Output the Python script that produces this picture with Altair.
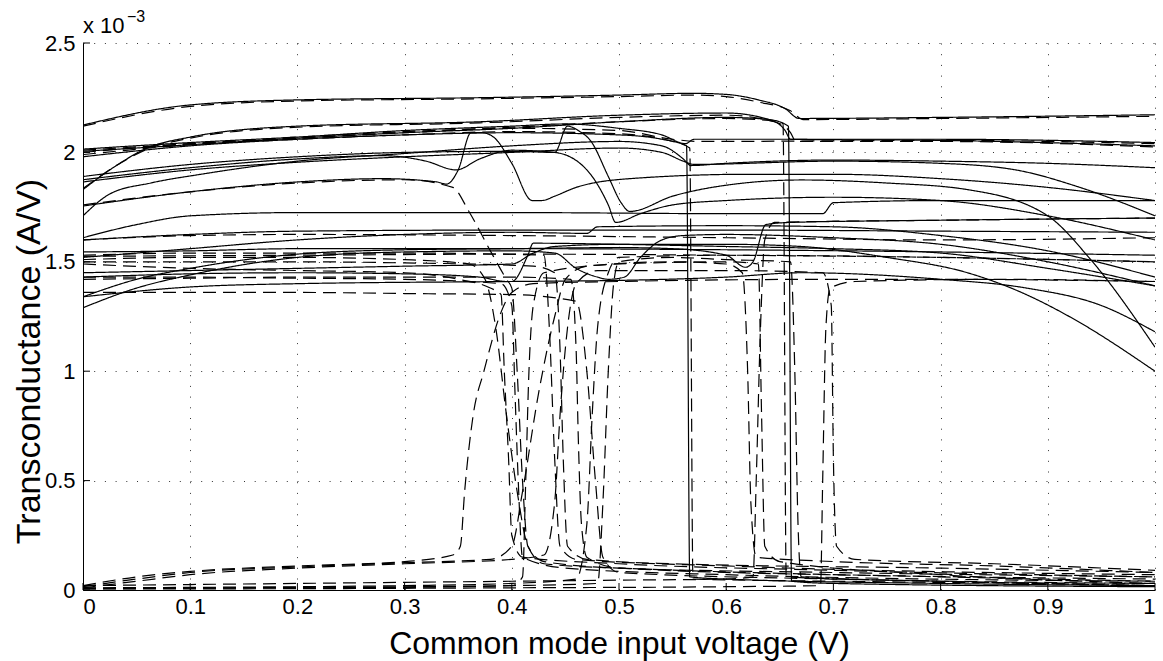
import altair as alt
import pandas as pd

# ---- values in units of 1e-3 A/V ----
# solid curves
s01 = [(0,2.125),(0.1,2.217),(0.2,2.24),(0.37,2.25),(0.5,2.262),(0.57,2.27),(0.6,2.265),(0.63,2.24),(0.655,2.2),(0.668,2.155),(0.8,2.16),(1.0,2.172)]
s02 = [(0,1.83),(0.028,1.93),(0.06,2.02),(0.1,2.07),(0.2,2.12),(0.37,2.14),(0.5,2.17),(0.6,2.18),(0.64,2.15),(0.655,2.1),(0.66,2.06),(0.8,2.055),(1.0,2.03)]
s03 = [(0,2.015),(0.1,2.045),(0.2,2.07),(0.3,2.10),(0.4,2.12),(0.45,2.13),(0.5,2.11),(0.54,2.08),(0.562,2.04),(0.57,2.06),(0.8,2.06),(1.0,2.045)]
s04 = [(0,1.98),(0.1,2.03),(0.2,2.06),(0.3,2.08),(0.4,2.09),(0.5,2.08),(0.54,2.06),(0.563,2.03),(0.566,0.06),(0.6,0.05),(0.8,0.03),(1.0,0.02)]
s05 = [(0,1.755),(0.1,1.82),(0.2,1.865),(0.28,1.88),(0.33,1.865),(0.339,1.855),(0.35,1.92),(0.362,2.09),(0.372,2.09),(0.383,2.07),(0.4,1.95),(0.419,1.78),(0.428,1.78),(0.44,1.80),(0.46,1.84),(0.51,1.88),(0.62,1.90),(0.7,1.90),(0.8,1.88),(0.9,1.84),(1.0,1.78)]
s06 = [(0,1.875),(0.1,1.93),(0.2,1.97),(0.28,1.985),(0.32,1.96),(0.348,1.92),(0.37,1.97),(0.40,2.01),(0.44,2.0),(0.47,1.92),(0.49,1.76),(0.497,1.68),(0.52,1.72),(0.55,1.76),(0.6,1.78),(0.7,1.795),(0.8,1.78),(0.9,1.71),(1.0,1.60)]
s07 = [(0,1.89),(0.1,1.945),(0.2,1.98),(0.3,2.0),(0.4,2.005),(0.44,2.0),(0.452,2.12),(0.462,2.10),(0.474,2.05),(0.49,1.89),(0.502,1.77),(0.51,1.73),(0.55,1.80),(0.6,1.85),(0.67,1.874),(0.75,1.86),(0.825,1.83),(0.9,1.71),(0.94,1.51),(1.0,1.11)]
s08 = [(0,1.71),(0.025,1.81),(0.063,1.86),(0.11,1.90),(0.2,1.96),(0.3,1.995),(0.4,2.03),(0.5,2.05),(0.54,2.03),(0.56,1.97),(0.567,1.94),(0.6,1.95),(0.7,1.965),(0.8,1.96),(0.9,1.95),(1.0,1.93)]
s09 = [(0,1.865),(0.1,1.92),(0.2,1.955),(0.3,1.98),(0.4,2.0),(0.5,2.02),(0.54,2.0),(0.56,1.96),(0.57,1.945),(0.7,1.96),(0.8,1.95),(0.87,1.92),(0.93,1.84),(1.0,1.71)]
s10 = [(0,2.005),(0.1,2.035),(0.2,2.065),(0.3,2.09),(0.4,2.11),(0.5,2.14),(0.6,2.16),(0.64,2.15),(0.658,2.12),(0.661,0.04),(0.7,0.03),(1.0,0.015)]
s11 = [(0,1.61),(0.05,1.67),(0.1,1.71),(0.2,1.725),(0.4,1.725),(0.6,1.72),(0.69,1.72),(0.70,1.77),(0.8,1.78),(1.0,1.78)]
s12 = [(0,1.60),(0.1,1.625),(0.2,1.64),(0.4,1.645),(0.6,1.645),(0.8,1.64),(1.0,1.635)]
s13 = [(0,1.52),(0.1,1.56),(0.2,1.60),(0.3,1.625),(0.4,1.635),(0.47,1.63),(0.48,1.66),(0.6,1.665),(0.7,1.66),(0.8,1.62),(0.9,1.55),(1.0,1.43)]
s14 = [(0,1.545),(0.1,1.55),(0.2,1.56),(0.4,1.56),(0.6,1.555),(0.8,1.545),(1.0,1.53)]
s15 = [(0,1.43),(0.1,1.445),(0.2,1.45),(0.3,1.445),(0.37,1.43),(0.395,1.41),(0.40,1.41),(0.415,1.53),(0.42,1.585),(0.5,1.58),(0.6,1.57),(0.7,1.56),(0.8,1.54),(0.9,1.47),(1.0,1.39)]
s16 = [(0,1.34),(0.05,1.42),(0.1,1.47),(0.2,1.535),(0.3,1.555),(0.4,1.56),(0.5,1.565),(0.55,1.56),(0.6,1.53),(0.618,1.475),(0.625,1.50),(0.637,1.67),(0.66,1.68),(0.8,1.69),(1.0,1.70)]
s17 = [(0,1.29),(0.05,1.38),(0.1,1.44),(0.2,1.52),(0.3,1.545),(0.4,1.55),(0.44,1.54),(0.46,1.47),(0.48,1.43),(0.49,1.42),(0.505,1.43),(0.52,1.52),(0.54,1.60),(0.56,1.62),(0.6,1.625),(0.7,1.61),(0.8,1.58),(0.9,1.50),(1.0,1.39)]
s18 = [(0,1.34),(0.1,1.385),(0.2,1.40),(0.4,1.41),(0.5,1.415),(0.6,1.43),(0.67,1.45),(0.8,1.42),(0.88,1.38),(0.95,1.30),(1.0,1.18)]
s19 = [(0,1.45),(0.1,1.46),(0.2,1.47),(0.3,1.48),(0.4,1.49),(0.42,1.54),(0.44,1.57),(0.5,1.58),(0.6,1.58),(0.67,1.57),(0.75,1.52),(0.825,1.45),(0.88,1.35),(0.92,1.25),(1.0,1.0)]

# dashed curves
d01 = [(0,2.12),(0.1,2.21),(0.2,2.235),(0.37,2.245),(0.5,2.255),(0.57,2.262),(0.6,2.255),(0.63,2.23),(0.66,2.19),(0.672,2.15),(0.8,2.155),(1.0,2.165)]
d02 = [(0,1.835),(0.028,1.93),(0.06,2.015),(0.1,2.065),(0.2,2.115),(0.37,2.135),(0.5,2.16),(0.6,2.17),(0.645,2.14),(0.66,2.09),(0.665,2.05),(0.8,2.05),(1.0,2.025)]
d03 = [(0,2.0),(0.1,2.04),(0.2,2.065),(0.3,2.09),(0.4,2.11),(0.5,2.10),(0.55,2.06),(0.575,2.05),(0.8,2.055),(1.0,2.04)]
d04 = [(0,1.99),(0.1,2.035),(0.2,2.06),(0.3,2.08),(0.4,2.095),(0.5,2.085),(0.55,2.05),(0.566,2.02),(0.569,0.05),(0.7,0.04),(1.0,0.03)]
d05 = [(0,2.01),(0.1,2.04),(0.2,2.07),(0.3,2.095),(0.4,2.115),(0.5,2.14),(0.6,2.155),(0.65,2.14),(0.653,2.13),(0.656,0.06),(0.8,0.04),(1.0,0.02)]
d06 = [(0,1.60),(0.1,1.62),(0.2,1.625),(0.4,1.62),(0.6,1.61),(0.8,1.60),(1.0,1.61)]
d07 = [(0,1.525),(0.2,1.53),(0.4,1.535),(0.6,1.53),(0.8,1.52),(1.0,1.50)]
d08 = [(0,1.51),(0.1,1.52),(0.2,1.52),(0.3,1.51),(0.36,1.49),(0.375,1.42),(0.385,1.2),(0.395,0.8),(0.405,0.45),(0.415,0.2),(0.43,0.12),(0.5,0.10),(0.7,0.08),(1.0,0.06)]
d09 = [(0,1.43),(0.1,1.43),(0.2,1.425),(0.3,1.42),(0.39,1.40),(0.40,1.3),(0.403,0.9),(0.406,0.5),(0.41,0.15),(0.45,0.1),(0.6,0.07),(1.0,0.04)]
d10 = [(0,1.50),(0.1,1.50),(0.2,1.50),(0.3,1.495),(0.42,1.48),(0.44,1.45),(0.445,1.1),(0.448,0.6),(0.452,0.2),(0.47,0.14),(0.55,0.12),(0.8,0.1),(1.0,0.08)]
d11 = [(0,1.36),(0.1,1.36),(0.2,1.36),(0.3,1.355),(0.4,1.35),(0.46,1.32),(0.47,1.0),(0.478,0.5),(0.485,0.15),(0.5,0.08),(0.7,0.05),(1.0,0.03)]
d12 = [(0,1.49),(0.1,1.47),(0.2,1.46),(0.3,1.45),(0.35,1.42),(0.38,1.38),(0.39,1.35),(0.393,1.0),(0.397,0.6),(0.40,0.25),(0.41,0.15),(0.5,0.12),(0.7,0.09),(1.0,0.06)]
d13 = [(0,1.42),(0.1,1.425),(0.2,1.43),(0.3,1.43),(0.4,1.43),(0.455,1.42),(0.46,1.1),(0.462,0.7),(0.465,0.3),(0.47,0.15),(0.5,0.1),(0.8,0.06),(1.0,0.04)]
d14 = [(0,1.76),(0.1,1.82),(0.2,1.86),(0.3,1.875),(0.345,1.84),(0.36,1.73),(0.38,1.55),(0.395,1.42),(0.40,1.38),(0.405,1.0),(0.41,0.5),(0.415,0.2),(0.43,0.13),(0.5,0.1),(1.0,0.05)]
d15 = [(0,1.53),(0.1,1.54),(0.3,1.54),(0.43,1.53),(0.435,1.2),(0.44,0.6),(0.445,0.2),(0.46,0.14),(0.6,0.11),(1.0,0.07)]
d16 = [(0,0.02),(0.05,0.06),(0.1,0.085),(0.2,0.11),(0.3,0.13),(0.345,0.16),(0.352,0.2),(0.356,0.45),(0.364,0.8),(0.374,1.0),(0.39,1.27),(0.40,1.36),(0.42,1.40),(0.5,1.41),(0.7,1.42),(0.8,1.42),(1.0,1.41)]
d17 = [(0,0.015),(0.05,0.05),(0.1,0.08),(0.2,0.105),(0.3,0.125),(0.38,0.14),(0.40,0.2),(0.41,0.45),(0.425,0.9),(0.44,1.25),(0.45,1.42),(0.47,1.48),(0.55,1.50),(0.6,1.49),(0.615,1.45),(0.62,1.0),(0.623,0.4),(0.628,0.15),(0.7,0.13),(0.85,0.11),(1.0,0.08)]
d18 = [(0,0.01),(0.05,0.04),(0.1,0.07),(0.2,0.1),(0.3,0.12),(0.4,0.14),(0.43,0.16),(0.44,0.4),(0.445,0.8),(0.452,1.2),(0.46,1.4),(0.48,1.46),(0.6,1.46),(0.69,1.45),(0.698,1.3),(0.70,0.6),(0.703,0.2),(0.72,0.14),(0.85,0.12),(1.0,0.09)]
d19 = [(0,0.01),(0.1,0.012),(0.2,0.015),(0.3,0.02),(0.4,0.03),(0.46,0.05),(0.47,0.3),(0.475,0.8),(0.48,1.2),(0.49,1.45),(0.5,1.52),(0.6,1.53),(0.8,1.52),(1.0,1.50)]
d20 = [(0,0.005),(0.1,0.008),(0.2,0.01),(0.3,0.012),(0.4,0.02),(0.41,0.06),(0.413,0.5),(0.416,1.0),(0.42,1.3),(0.43,1.45),(0.5,1.49),(0.6,1.50),(0.63,1.49),(0.633,0.8),(0.636,0.2),(0.65,0.13),(0.8,0.07),(1.0,0.03)]
d21 = [(0,0.02),(0.1,0.025),(0.2,0.03),(0.3,0.035),(0.4,0.04),(0.5,0.045),(0.6,0.05),(0.625,0.06),(0.628,0.5),(0.632,1.2),(0.636,1.6),(0.645,1.68),(0.8,1.69),(1.0,1.70)]
d22 = [(0,0.008),(0.2,0.012),(0.4,0.02),(0.48,0.03),(0.485,0.4),(0.49,1.0),(0.495,1.4),(0.5,1.5),(0.55,1.52),(0.6,1.51),(0.66,1.50),(0.664,1.0),(0.667,0.3),(0.67,0.06),(0.8,0.04),(1.0,0.02)]
d23 = [(0,0.005),(0.2,0.006),(0.4,0.01),(0.6,0.015),(0.688,0.02),(0.69,0.5),(0.693,1.2),(0.697,1.38),(0.72,1.41),(0.85,1.42),(1.0,1.41)]

solid_series = [s01,s02,s03,s04,s05,s06,s07,s08,s09,s10,s11,s12,s13,s14,s15,s16,s17,s18,s19]
dashed_series = [d01,d02,d03,d04,d05,d06,d07,d08,d09,d10,d11,d12,d13,d14,d15,d16,d17,d18,d19,d20,d21,d22,d23]

x_ticks = [0,0.1,0.2,0.3,0.4,0.5,0.6,0.7,0.8,0.9,1.0]
y_ticks = [0,0.5,1.0,1.5,2.0,2.5]

rows = []
for style, group in (("dashed", dashed_series), ("solid", solid_series)):
    for k, pts in enumerate(group):
        for i, (xv, yv) in enumerate(pts):
            rows.append({"x": xv, "y": yv, "series": f"{style}{k}", "style": style, "idx": i})
df = pd.DataFrame(rows)

W, H = 1072, 547
FONT = "Liberation Sans"

xscale = alt.Scale(domain=[0, 1], nice=False, zero=False)
yscale = alt.Scale(domain=[0, 2.5], nice=False, zero=False)
xaxis = alt.Axis(values=x_ticks, format="~g", title="Common mode input voltage (V)",
                 grid=True, ticks=False, labelPadding=6,
                 titleBaseline="alphabetic", titleAlign="center", titleX=W / 2, titleY=63,
                 titleFontSize=32)
yaxis = alt.Axis(values=y_ticks, format="~g", title="Transconductance (A/V)",
                 grid=True, ticks=False, labelPadding=8,
                 titleAngle=270, titleBaseline="alphabetic", titleAlign="center", titleX=-44, titleY=318,
                 titleFontSize=34)

lines = alt.Chart(df).mark_line(color="black", strokeWidth=1.2, clip=True, interpolate="monotone").encode(
    x=alt.X("x:Q", scale=xscale, axis=xaxis),
    y=alt.Y("y:Q", scale=yscale, axis=yaxis),
    detail="series:N",
    order="idx:Q",
    strokeDash=alt.StrokeDash("style:N", scale=alt.Scale(domain=["solid", "dashed"], range=[[1, 0], [13, 7]]), legend=None),
)

xt = alt.Chart(pd.DataFrame({"t": x_ticks})).mark_rule(color="black", strokeWidth=1).encode(
    x=alt.X("t:Q", scale=xscale, axis=xaxis), y=alt.value(H), y2=alt.value(H - 7))
yt = alt.Chart(pd.DataFrame({"t": y_ticks})).mark_rule(color="black", strokeWidth=1).encode(
    y=alt.Y("t:Q", scale=yscale, axis=yaxis), x=alt.value(0), x2=alt.value(7))

mult = alt.Chart(pd.DataFrame({"t": ["x 10"]})).mark_text(
    align="left", baseline="alphabetic", fontSize=22, font=FONT, color="black").encode(
    text="t:N", x=alt.value(0), y=alt.value(-10))
expo = alt.Chart(pd.DataFrame({"t": ["\u22123"]})).mark_text(
    align="left", baseline="alphabetic", fontSize=16, font=FONT, color="black").encode(
    text="t:N", x=alt.value(44), y=alt.value(-21))

chart = alt.layer(lines, xt, yt, mult, expo).properties(
    width=W, height=H,
    autosize=alt.AutoSizeParams(type="none"),
    padding={"left": 83, "top": 43, "right": 8, "bottom": 71},
).configure_view(strokeWidth=0).configure_axis(
    domainColor="black", domainWidth=1,
    gridColor="black", gridOpacity=0.8, gridDash=[1, 9.7], gridWidth=1,
    labelFont=FONT, labelFontSize=22, labelColor="black",
    titleFont=FONT, titleFontWeight="normal", titleColor="black",
)

chart.save("out.html", embed_options={"renderer": "svg", "actions": False})
